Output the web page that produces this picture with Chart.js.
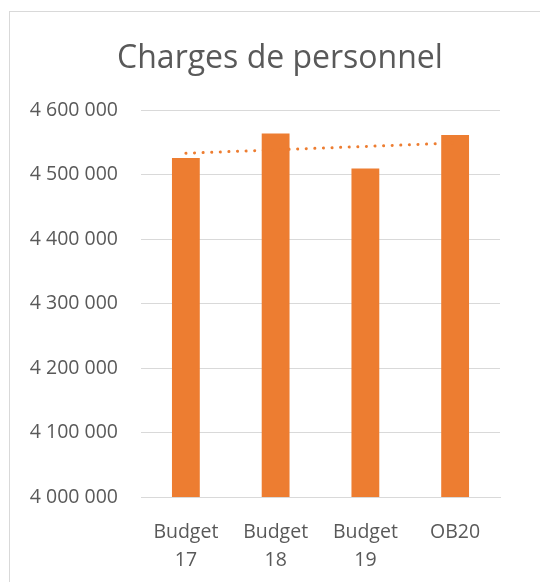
<!DOCTYPE html>
<html>
<head>
<meta charset="utf-8">
<script src="https://cdn.jsdelivr.net/npm/chart.js@4/dist/chart.umd.min.js"></script>
<style>
  html, body { margin: 0; padding: 0; background: #fff; overflow: hidden; }
  #frame {
    position: absolute; left: 9px; top: 11px;
    width: 540px; height: 580px;
    border: 1px solid #d9d9d9;
  }
  #wrap { position: absolute; left: 0; top: 0; width: 540px; height: 575px; }
</style>
</head>
<body>
<div id="frame">
  <div id="wrap"><canvas id="chart"></canvas></div>
</div>
<script>
// données
const labels = [["Budget", "17"], ["Budget", "18"], ["Budget", "19"], "OB20"];
const charges = [4526000, 4564000, 4510000, 4562000];
const tendance = [4533500, 4538800, 4544100, 4549400];
const yMin = 4000000;
const yMax = 4600000;
const yStep = 100000;

const ORANGE = "#ED7D31";
const GRIS = "#595959";
const FONT = "'Open Sans', sans-serif";

function fmt(v) {
  return String(v).replace(/\B(?=(\d{3})+(?!\d))/g, " ");
}

new Chart(document.getElementById("chart"), {
  data: {
    labels: labels,
    datasets: [
      {
        type: "line",
        label: "Tendance",
        data: tendance,
        borderColor: ORANGE,
        borderWidth: 3,
        borderDash: [0.1, 8.5],
        borderCapStyle: "round",
        pointRadius: 0,
        fill: false,
        order: 0
      },
      {
        type: "bar",
        label: "Charges de personnel",
        data: charges,
        backgroundColor: ORANGE,
        categoryPercentage: 1,
        barPercentage: 0.31,
        order: 1
      }
    ]
  },
  options: {
    responsive: true,
    maintainAspectRatio: false,
    animation: false,
    layout: { padding: { left: 0, right: 0, top: 0, bottom: 15 } },
    plugins: {
      legend: { display: false },
      tooltip: { enabled: false },
      title: {
        display: true,
        text: "Charges de personnel",
        color: GRIS,
        font: { family: FONT, size: 32, weight: "normal", lineHeight: 1.2 },
        padding: { top: 28, bottom: 32 }
      }
    },
    scales: {
      x: {
        afterFit: (scale) => { scale.height = 75; },
        grid: { display: false, drawTicks: false },
        border: { display: true, color: "#d9d9d9", width: 1 },
        ticks: {
          color: GRIS,
          padding: 21,
          maxRotation: 0,
          font: { family: FONT, size: 19.5, lineHeight: 1.45 }
        }
      },
      y: {
        min: yMin,
        max: yMax,
        afterFit: (scale) => { scale.width = 131; },
        grid: { color: "#d9d9d9", lineWidth: 1, drawTicks: false },
        border: { display: false },
        ticks: {
          stepSize: yStep,
          color: GRIS,
          padding: 23,
          font: { family: FONT, size: 19.5 },
          callback: (v) => fmt(v)
        }
      },
      // marge droite vide
      marge: {
        position: "right",
        afterFit: (scale) => { scale.width = 50; },
        grid: { display: false, drawTicks: false },
        border: { display: false },
        ticks: { display: false }
      }
    }
  }
});
</script>
</body>
</html>
